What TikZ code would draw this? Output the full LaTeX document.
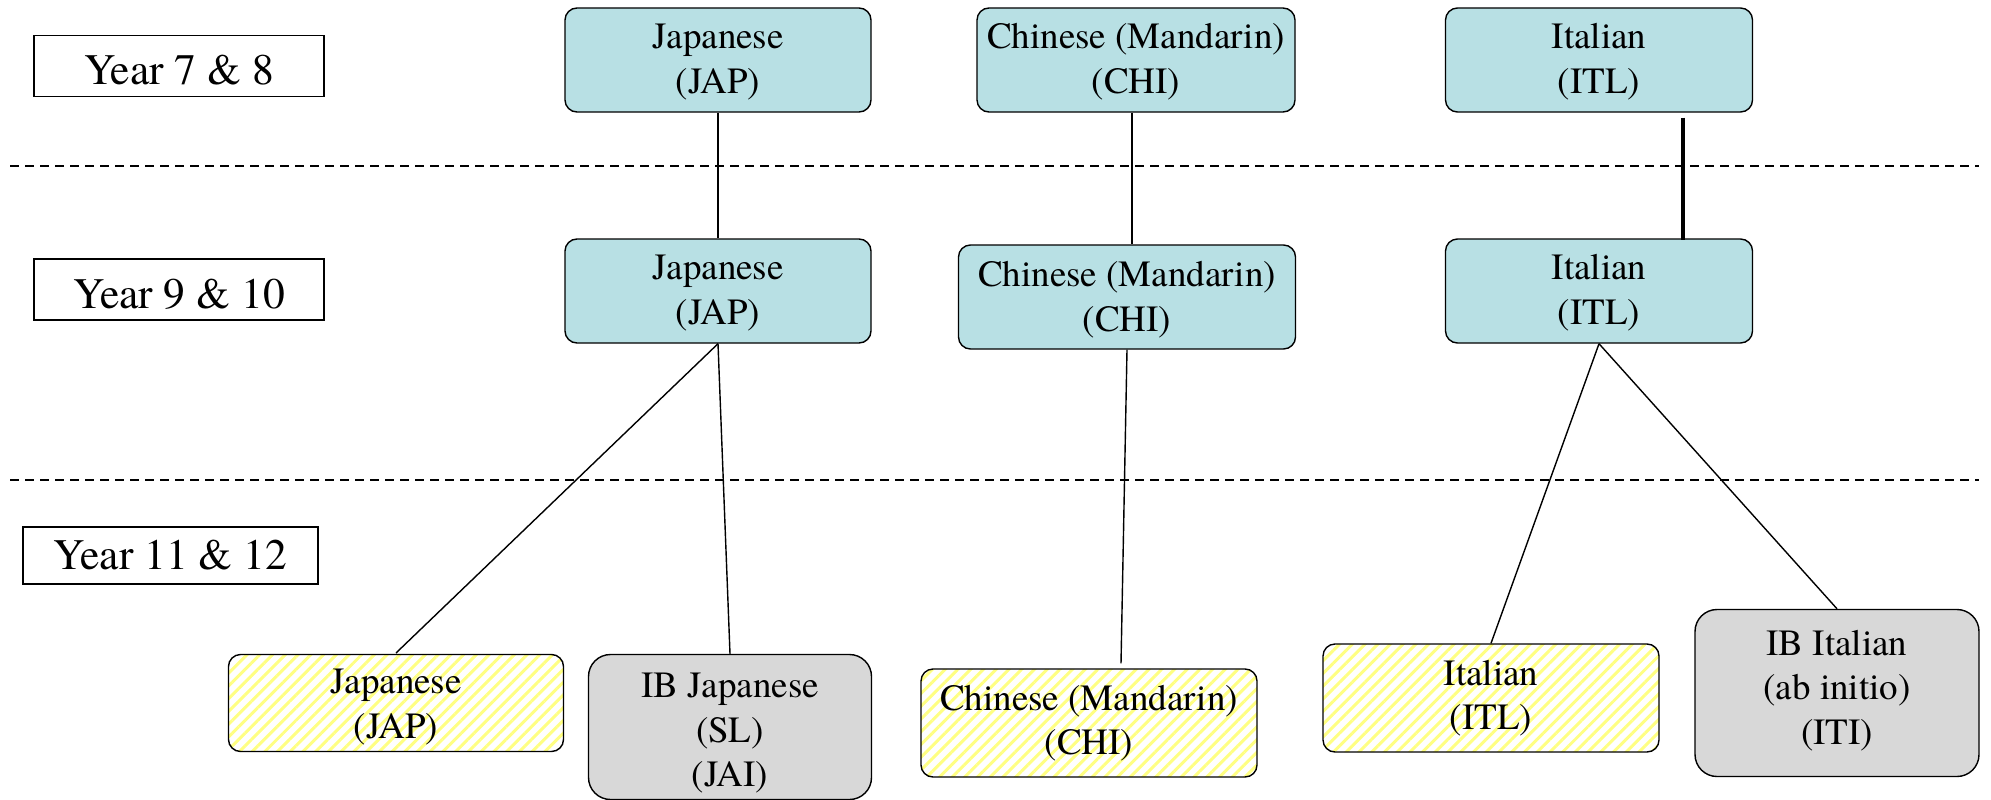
\documentclass[tikz,border=0pt]{standalone}
\usepackage{fontspec}
\setmainfont{texgyretermes-regular.otf}
\usetikzlibrary{patterns.meta}
\definecolor{boxcyan}{RGB}{184,224,228}
\definecolor{stripeyellow}{RGB}{255,255,130}
\definecolor{dotgray}{RGB}{216,216,216}
\newcommand{\lowertext}[1]{\rule[#1]{0pt}{0pt}}
\newcommand{\raisetext}[1]{\rule[-#1]{0pt}{#1}}
\tikzset{
  lang/.style={draw, rounded corners=12pt, fill=boxcyan, align=center, inner sep=0pt, minimum height=104pt},
  senior/.style={draw, rounded corners=12pt, align=center, inner sep=0pt, pattern={Lines[angle=45,distance=9pt,line width=3pt]}, pattern color=stripeyellow},
  ib/.style={draw, rounded corners=22pt, align=center, inner sep=0pt, fill=dotgray},
  yearbox/.style={draw, align=center, inner sep=0pt, minimum width=290pt, minimum height=61pt, font=\fontsize{43.5}{52}\selectfont},
  divider/.style={dash pattern=on 9pt off 6pt},
}
\begin{document}
\begin{tikzpicture}[x=1pt,y=-1pt,line width=1.4pt,every node/.style={font=\fontsize{37}{44.5}\selectfont}]
  \useasboundingbox (0,0) rectangle (1991,800);
  \draw[divider] (10,166) -- (1979,166);
  \draw[divider] (10,480) -- (1979,480);
   \node[yearbox] (y78) at (179,66) {\lowertext{38pt}Year 7 \& 8};
   \node[yearbox] (y910) at (179,289.5) {\lowertext{38pt}Year 9 \& 10};
   \node[yearbox, minimum width=295pt, minimum height=57pt] (y1112) at (170.5,555.5) {Year 11 \& 12};
   \node[lang, minimum width=306pt] (jap1) at (718,60) {\lowertext{29pt}Japanese\\(JAP)};
   \node[lang, minimum width=318pt] (chi1) at (1136,60) {\lowertext{29pt}Chinese (Mandarin)\\(CHI)};
   \node[lang, minimum width=307pt] (itl1) at (1599,60) {\lowertext{29pt}Italian\\(ITL)};
   \node[lang, minimum width=306pt] (jap2) at (718,291) {\lowertext{29pt}Japanese\\(JAP)};
   \node[lang, minimum width=337pt] (chi2) at (1127,297) {\lowertext{31pt}Chinese (Mandarin)\\(CHI)};
   \node[lang, minimum width=307pt] (itl2) at (1599,291) {\lowertext{29pt}Italian\\(ITL)};
   \node[senior, minimum width=335pt, minimum height=97pt] (jap3) at (396,703) {\lowertext{33pt}Japanese\\(JAP)};
   \node[ib, minimum width=283pt, minimum height=145pt] (ibjap) at (730,727) {\lowertext{37pt}IB Japanese\\(SL)\\(JAI)};
   \node[senior, minimum width=336pt, minimum height=108pt] (chi3) at (1089,723) {Chinese (Mandarin)\\(CHI)};
   \node[senior, minimum width=336pt, minimum height=108pt] (itl3) at (1491,698) {Italian\\(ITL)};
   \node[ib, minimum width=284pt, minimum height=167pt] (ibitl) at (1837,693) {IB Italian\\(ab initio)\\(ITI)\raisetext{12pt}};
  \draw (jap1.south) -- (jap2.north);
  \draw ([xshift=-4pt]chi1.south) -- ([xshift=5pt]chi2.north);
  \draw[line width=4pt] ([xshift=84pt,yshift=-5pt]itl1.south) -- ([xshift=84pt,yshift=-2pt]itl2.north);
  \draw (jap2.south) -- (jap3.north);
  \draw (jap2.south) -- (ibjap.north);
  \draw (chi2.south) -- ([xshift=32pt,yshift=5pt]chi3.north);
  \draw (itl2.south) -- (itl3.north);
  \draw (itl2.south) -- (ibitl.north);
\end{tikzpicture}
\end{document}
